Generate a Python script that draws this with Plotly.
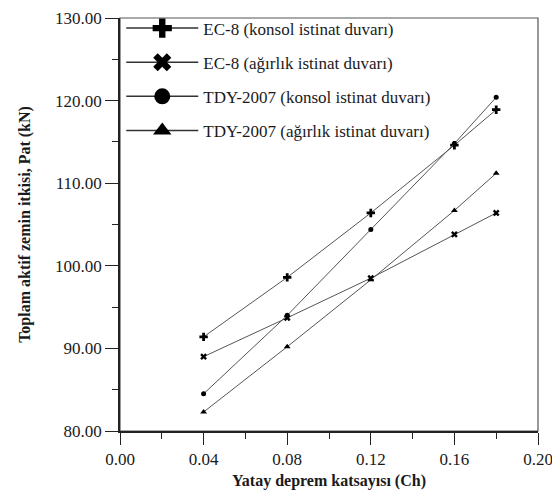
import plotly.graph_objects as go

# Data
ch = [0.04, 0.08, 0.12, 0.16, 0.18]
ec8_konsol = [91.4, 98.6, 106.4, 114.6, 118.9]
ec8_agirlik = [89.0, 93.7, 98.5, 103.8, 106.4]
tdy_konsol = [84.5, 94.0, 104.4, 114.8, 120.4]
tdy_agirlik = [82.3, 90.2, 98.3, 106.7, 111.2]

series_names = [
    "EC-8 (konsol istinat duvarı)",
    "EC-8 (ağırlık istinat duvarı)",
    "TDY-2007 (konsol istinat duvarı)",
    "TDY-2007 (ağırlık istinat duvarı)",
]
series_values = [ec8_konsol, ec8_agirlik, tdy_konsol, tdy_agirlik]
symbols = ["cross", "x", "circle", "triangle-up"]
plot_sizes = [7, 6, 5, 6]

x_ticks = [0.00, 0.04, 0.08, 0.12, 0.16, 0.20]
y_ticks = [80, 90, 100, 110, 120, 130]

FONT = "Liberation Serif"

fig = go.Figure()

# data traces
for name, vals, sym, sz in zip(series_names, series_values, symbols, plot_sizes):
    fig.add_trace(go.Scatter(
        x=ch, y=vals, mode="lines+markers", name=name, showlegend=False,
        line=dict(color="#555555", width=1),
        marker=dict(symbol=sym, size=sz, color="black"),
    ))

# legend-only traces (large legend markers)
for i, (name, sym) in enumerate(zip(series_names, symbols)):
    fig.add_trace(go.Scatter(
        x=[None], y=[None], mode="lines+markers", name=name,
        legendgroup=f"g{i}",
        line=dict(color="#333333", width=1.5),
        marker=dict(symbol=sym, size=16, color="black"),
    ))

# frame (top/right thin gray)
fig.add_shape(type="rect", xref="x domain", yref="y domain", x0=0, x1=1, y0=0, y1=1,
              line=dict(color="#555555", width=1.2), layer="below")

# page body has an 8px margin: figure is 552x484 placed at (8,8)
fig.update_layout(
    width=552, height=484,
    margin=dict(l=112, r=22, t=10, b=61, autoexpand=False),
    paper_bgcolor="white", plot_bgcolor="white",
    font=dict(family=FONT, size=16, color="#1a1a1a"),
    showlegend=True,
    legend=dict(
        x=0.003, y=1.018, xanchor="left", yanchor="top",
        bgcolor="rgba(0,0,0,0)", borderwidth=0,
        font=dict(family=FONT, size=17, color="#1a1a1a"),
        tracegroupgap=9, itemwidth=72,
        traceorder="grouped",
    ),
    xaxis=dict(
        range=[0, 0.2], tickvals=x_ticks, ticktext=[f"{v:.2f}" for v in x_ticks],
        ticks="outside", ticklen=12, tickwidth=1.2, tickcolor="#222",
        showline=True, linecolor="#222", linewidth=1.5,
        showgrid=False, zeroline=False, ticklabeloverflow="allow",
        minor=dict(dtick=0.02, tick0=0, ticks="outside", ticklen=6, tickwidth=1.2, tickcolor="#222"),
        tickfont=dict(family=FONT, size=17),
        title=dict(text="Yatay deprem katsayısı (Ch)", standoff=7,
                   font=dict(family=FONT, size=16, weight="bold", color="#1a1a1a")),
    ),
    yaxis=dict(
        range=[80, 130], tickvals=y_ticks, ticktext=[f"{v:.2f}" for v in y_ticks],
        ticks="outside", ticklen=13, tickwidth=1.2, tickcolor="#222",
        showline=True, linecolor="#222", linewidth=1.5,
        showgrid=False, zeroline=False, ticklabeloverflow="allow",
        minor=dict(dtick=5, tick0=80, ticks="outside", ticklen=6, tickwidth=1.2, tickcolor="#222"),
        tickfont=dict(family=FONT, size=17),
        title=dict(text="Toplam aktif zemin itkisi, Pat (kN)", standoff=20,
                   font=dict(family=FONT, size=16, weight="bold", color="#1a1a1a")),
    ),
)

fig.write_html("out.html")
